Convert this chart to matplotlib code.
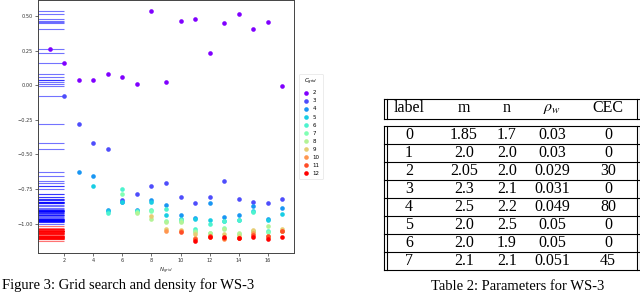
import numpy as np
import matplotlib
matplotlib.use("Agg")
import matplotlib.pyplot as plt

# ---------------- data ----------------
n_grid = list(range(1, 18))
c_grid = [2, 3, 4, 5, 6, 7, 8, 9, 10, 11, 12]

# values for each C_grid, starting at N_grid = C_grid - 1 up to 17
vals_c2 = [0.263, 0.157, 0.040, 0.037, 0.080, 0.061, 0.011, 0.532, 0.023,
           0.467, 0.481, 0.229, 0.450, 0.517, 0.409, 0.457, -0.009]
vals_c3 = [-0.076, -0.280, -0.416, -0.462, -0.832, -0.782, -0.731, -0.706,
           -0.807, -0.852, -0.809, -0.690, -0.818, -0.841, -0.852, -0.818]
vals_c4 = [-0.625, -0.657, -0.900, -0.840, -0.900, -0.827, -0.866, -0.935,
           -0.955, -0.849, -0.950, -0.940, -0.875, -0.966, -0.883]
vals_c5 = [-0.724, -0.905, -0.845, -0.905, -0.843, -0.940, -0.964, -0.969,
           -0.970, -0.980, -0.975, -0.911, -0.970, -0.933]
vals_c6 = [-0.925, -0.750, -0.910, -0.904, -0.892, -0.980, -1.040, -1.005,
           -0.980, -0.970, -0.915, -1.055, -1.050]
vals_c7 = [-0.787, -0.915, -0.910, -0.983, -0.975, -1.050, -1.065, -1.030,
           -1.072, -1.055, -1.060, -1.055]
vals_c8 = [-0.925, -0.964, -0.985, -0.985, -1.063, -1.070, -1.035, -1.070,
           -1.055, -1.016, -1.050]
vals_c9 = [-0.945, -1.036, -1.045, -1.075, -1.090, -1.075, -1.090, -1.045,
           -1.090, -1.040]
vals_c10 = [-1.050, -1.055, -1.105, -1.095, -1.110, -1.100, -1.070, -1.095, -1.050]
vals_c11 = [-1.060, -1.110, -1.090, -1.100, -1.100, -1.080, -1.085, -1.055]
vals_c12 = [-1.128, -1.094, -1.094, -1.102, -1.094, -1.108, -1.097]
series = [vals_c2, vals_c3, vals_c4, vals_c5, vals_c6, vals_c7, vals_c8,
          vals_c9, vals_c10, vals_c11, vals_c12]
rug_split = -1.015

# table
tbl_header = ["label", "m", "n", r"$\rho_w$", "CEC"]
tbl_label = ["0", "1", "2", "3", "4", "5", "6", "7"]
tbl_m = ["1.85", "2.0", "2.05", "2.3", "2.5", "2.0", "2.0", "2.1"]
tbl_n = ["1.7", "2.0", "2.0", "2.1", "2.2", "2.5", "1.9", "2.1"]
tbl_rho = ["0.03", "0.03", "0.029", "0.031", "0.049", "0.05", "0.05", "0.051"]
tbl_cec = ["0", "0", "30", "0", "80", "0", "0", "45"]

fig_caption = "Figure 3: Grid search and density for WS-3"
tbl_caption = "Table 2: Parameters for WS-3"

# ---------------- figure ----------------
W, H = 640, 294
fig = plt.figure(figsize=(W / 100, H / 100), dpi=100)
plt.rcParams['mathtext.fontset'] = 'dejavusans'

ax = fig.add_axes([38 / W, 1 - 253 / H, 256 / W, 253 / H])
colors = plt.cm.rainbow(np.linspace(0, 1, len(c_grid)))
all_vals = []
for c, vals, col in zip(c_grid, series, colors):
    xs = n_grid[len(n_grid) - len(vals):]
    ax.scatter(xs, vals, s=11, color=col, linewidths=0, label=str(c), zorder=3)
    all_vals.extend(vals)

ax.set_xlim(ax.get_xlim())
x0 = ax.get_xlim()[0]
rug_cols = ['blue' if v > rug_split else 'red' for v in all_vals]
ax.hlines(all_vals, x0, 2, colors=rug_cols, lw=0.8, alpha=0.55, zorder=2)

for s in ax.spines.values():
    s.set_color('#444444')
    s.set_linewidth(0.7)
ax.tick_params(labelsize=3.6, length=2, width=0.5, pad=1.5, colors='#333333')
ax.set_xlabel(r'$N_{grid}$', fontsize=4, labelpad=2, color='#333333')
leg = ax.legend(title=r'$C_{grid}$', loc='center left', bbox_to_anchor=(1.01, 0.5),
                fontsize=4, title_fontsize=4, frameon=True, handletextpad=0.6,
                borderpad=0.6, labelspacing=0.55, handlelength=1.2, scatterpoints=1)
leg.get_frame().set_edgecolor('#dddddd')
leg.get_frame().set_linewidth(0.5)

# ---------------- table + captions (pixel overlay) ----------------
ov = fig.add_axes([0, 0, 1, 1], zorder=-1)
ov.set_xlim(0, W)
ov.set_ylim(H, 0)
ov.axis('off')

serif = 'Liberation Serif'
plt.rcParams['mathtext.fontset'] = 'stix'
fs_tbl = 11.5
lw = 0.8
xl1, xl2 = 383.5, 386.5
xr1, xr2 = 636.5, 639.5
hdr_top, hdr_bot = 99, 119
dat_top = 125.5
row_h = 18.1
nrows = len(tbl_label)
dat_bot = dat_top + nrows * row_h
col_x = [409, 464, 507, 552, 608]

# header box
for yy in (hdr_top, hdr_bot):
    ov.plot([xl1, xr2], [yy, yy], color='black', lw=lw)
for xx in (xl1, xl2, xr1, xr2):
    ov.plot([xx, xx], [hdr_top, hdr_bot], color='black', lw=lw)
    ov.plot([xx, xx], [dat_top, dat_bot], color='black', lw=lw)
ov.plot([xl1, xr2], [dat_top, dat_top], color='black', lw=lw)
for i in range(1, nrows + 1):
    yy = dat_top + i * row_h
    ov.plot([xl1, xr2], [yy, yy], color='black', lw=lw)

for cx, t in zip(col_x, tbl_header):
    ov.text(cx, (hdr_top + hdr_bot) / 2 - 1, t, ha='center', va='center',
            fontsize=fs_tbl, family=serif)
cols = [tbl_label, tbl_m, tbl_n, tbl_rho, tbl_cec]
for j, colvals in enumerate(cols):
    for i, t in enumerate(colvals):
        ov.text(col_x[j], dat_top + (i + 0.5) * row_h, t, ha='center',
                va='center', fontsize=fs_tbl, family=serif)

ov.text(2, 292.5, fig_caption, ha='left', va='bottom', fontsize=10.5, family=serif)
ov.text(518, 292.5, tbl_caption, ha='center', va='bottom', fontsize=10.5, family=serif)

fig.savefig('out.png', dpi=100)
